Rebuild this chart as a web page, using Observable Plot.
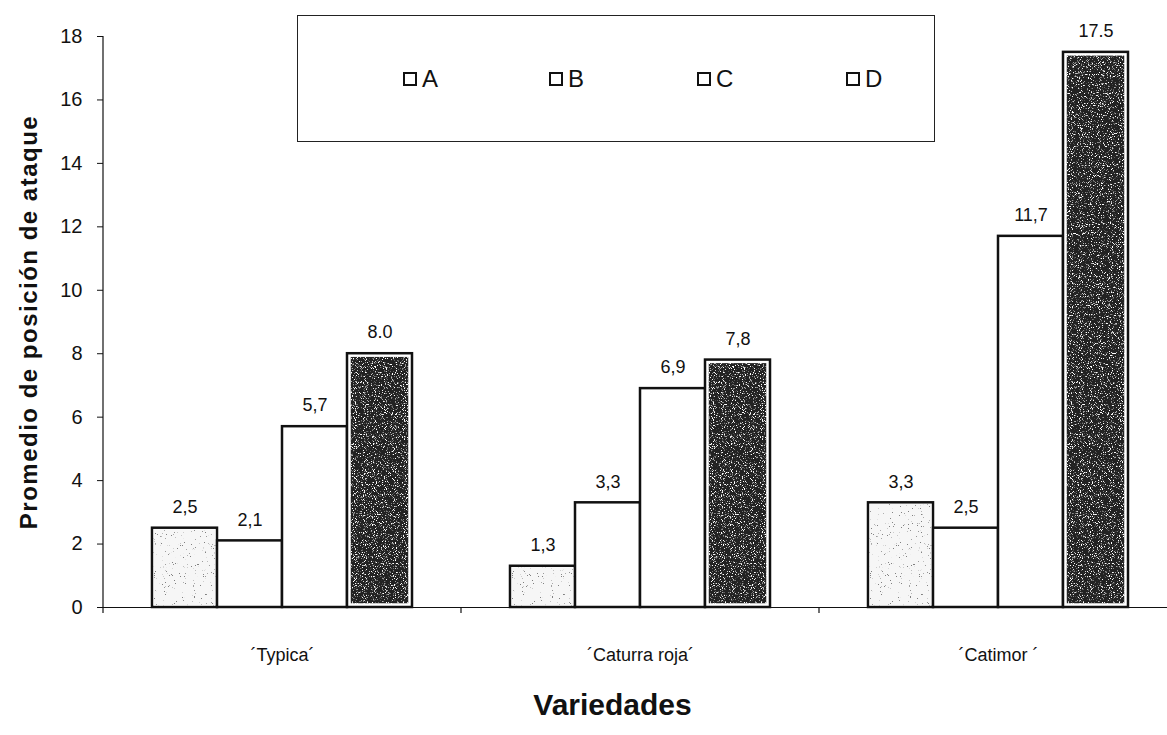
<!DOCTYPE html>
<html>
<head>
<meta charset="utf-8">
<script src="https://cdn.jsdelivr.net/npm/d3@7"></script>
<script src="https://cdn.jsdelivr.net/npm/@observablehq/plot@0.6"></script>
<style>
  html, body { margin: 0; padding: 0; background: #fff; overflow: hidden; }
  #wrap { position: relative; width: 1167px; height: 735px; overflow: hidden; font-family: "Liberation Sans", Arial, sans-serif; }
  #wrap svg { max-width: none !important; display: block; }
  #legend {
    position: absolute; left: 297px; top: 15px; width: 638px; height: 127px;
    border: 1.5px solid #222; background: #fff; box-sizing: border-box;
  }
  .item { position: absolute; top: 50px; font-size: 24px; line-height: 26px; color: #111; display: flex; align-items: center; }
  .swatch { width: 10px; height: 10px; border: 2px solid #111; margin-right: 5px; background: #fff; }
  svg [aria-label="y-axis label"] text { font-weight: bold; font-size: 24px; letter-spacing: 1.5px; }
</style>
</head>
<body>
<div id="wrap"></div>
<script>
// Mean attack position by coffee variety and series
const varieties = ["´Typica´", "´Caturra roja´", "´Catimor ´"];
const series = ["A", "B", "C", "D"];
const typica = [2.5, 2.1, 5.7, 8.0];
const caturra = [1.3, 3.3, 6.9, 7.8];
const catimor = [3.3, 2.5, 11.7, 17.5];
const typicaLabels = ["2,5", "2,1", "5,7", "8.0"];
const caturraLabels = ["1,3", "3,3", "6,9", "7,8"];
const catimorLabels = ["3,3", "2,5", "11,7", "17.5"];
const yTicks = [0, 2, 4, 6, 8, 10, 12, 14, 16, 18];

const valuesByVariety = [typica, caturra, catimor];
const labelsByVariety = [typicaLabels, caturraLabels, catimorLabels];
const rows = varieties.flatMap((v, i) =>
  series.map((s, j) => ({variety: v, series: s, value: valuesByVariety[i][j], label: labelsByVariety[i][j]}))
);

const plot = Plot.plot({
  width: 1177,
  height: 735,
  marginLeft: 103,
  marginRight: 0,
  marginTop: 36,
  marginBottom: 128,
  style: {fontFamily: "'Liberation Sans', Arial, sans-serif", fontSize: "15px", color: "#111", background: "#fff", maxWidth: "none"},
  fx: {domain: varieties, padding: 0, label: null},
  x: {domain: series, paddingInner: 0, paddingOuter: 0.746, axis: null},
  y: {domain: [0, 18], label: null},
  marks: [
    Plot.axisY({ticks: yTicks, tickSize: 6, tickPadding: 15, tickFormat: d => String(d), label: "Promedio de posición de ataque", labelArrow: "none", labelAnchor: "center", labelOffset: 84, fontSize: 20}),
    Plot.axisFx({anchor: "bottom", tickSize: 0, tickPadding: 41, fontSize: 18, label: null}),
    // outlined bars
    Plot.barY(rows, {fx: "variety", x: "series", y: "value", fill: "#fff", stroke: "#111", strokeWidth: 2.5}),
    // light stippled fill for series A
    Plot.barY(rows.filter(d => d.series === "A"), {fx: "variety", x: "series", y: "value", fill: "#f6f6f6", inset: 1.5, ariaDescription: "fill-light"}),
    // dark stippled fill for series D
    Plot.barY(rows.filter(d => d.series === "D"), {fx: "variety", x: "series", y: "value", fill: "#222", inset: 3.5, ariaDescription: "fill-dark"}),
    Plot.ruleY([0], {stroke: "#111", strokeWidth: 1.2}),
    Plot.text(rows, {fx: "variety", x: "series", y: "value", text: "label", dy: -21, fontSize: 18, fill: "#111"}),
    Plot.text(["Variedades"], {fx: () => varieties[1], frameAnchor: "bottom", dx: -28, dy: 107, fontSize: 30, fontWeight: "bold", fill: "#111"})
  ]
});

const svg = d3.select(plot);

// grain textures for the stippled fills
const defs = svg.insert("defs", ":first-child");
function speckle(id, seed, rgb, slope, offset) {
  const f = defs.append("filter").attr("id", id)
    .attr("x", 0).attr("y", 0).attr("width", 1).attr("height", 1)
    .attr("color-interpolation-filters", "sRGB");
  f.append("feTurbulence").attr("type", "fractalNoise").attr("baseFrequency", 0.9)
    .attr("numOctaves", 3).attr("seed", seed).attr("result", "n");
  f.append("feColorMatrix").attr("in", "n").attr("type", "matrix")
    .attr("values", `0 0 0 0 ${rgb}  0 0 0 0 ${rgb}  0 0 0 0 ${rgb}  ${slope} 0 0 0 ${offset}`).attr("result", "specks");
  f.append("feComposite").attr("in", "specks").attr("in2", "SourceGraphic").attr("operator", "over").attr("result", "mix");
  f.append("feComposite").attr("in", "mix").attr("in2", "SourceAlpha").attr("operator", "in");
}
speckle("speckle-dark", 7, 1, 7, -4.0);
speckle("speckle-light", 3, 0.5, 14, -9.9);

svg.selectAll('g[aria-description="fill-dark"] rect').attr("filter", "url(#speckle-dark)");
svg.selectAll('g[aria-description="fill-light"] rect').attr("filter", "url(#speckle-light)");

// y axis line and group boundary ticks, placed with the plot's scales
const fx = plot.scale("fx");
const y = plot.scale("y");
const x0 = fx.apply(varieties[0]);
svg.append("line").attr("x1", x0).attr("x2", x0)
  .attr("y1", y.apply(18)).attr("y2", y.apply(0) + 6)
  .attr("stroke", "#111").attr("stroke-width", 1.2);
varieties.slice(1).forEach(v => {
  const bx = fx.apply(v);
  svg.append("line").attr("x1", bx).attr("x2", bx)
    .attr("y1", y.apply(0)).attr("y2", y.apply(0) + 6)
    .attr("stroke", "#111").attr("stroke-width", 1.2);
});

const wrap = document.getElementById("wrap");
wrap.appendChild(plot);

// legend box
const legend = document.createElement("div");
legend.id = "legend";
const legendLeft = [105, 251, 399, 548];
series.forEach((s, i) => {
  const item = document.createElement("div");
  item.className = "item";
  item.style.left = legendLeft[i] + "px";
  item.innerHTML = `<span class="swatch"></span><span>${s}</span>`;
  legend.appendChild(item);
});
wrap.appendChild(legend);
</script>
</body>
</html>
